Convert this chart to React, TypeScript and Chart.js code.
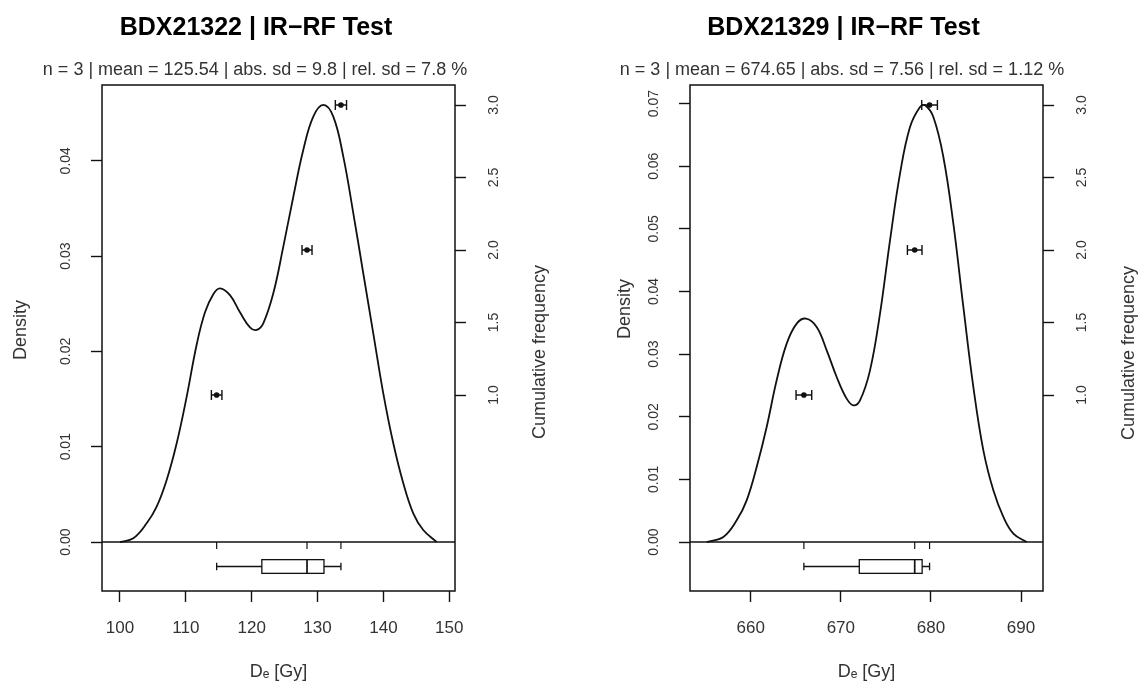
import React, { useEffect, useRef } from 'react';
import { Chart, registerables } from 'chart.js';

Chart.register(...registerables);
Chart.defaults.font.family = "'Liberation Sans', Arial, sans-serif";

// ---------- Panel 1: BDX21322 ----------
const p1Title = 'BDX21322 | IR\u2212RF Test';
const p1Subtitle = 'n = 3 | mean = 125.54 | abs. sd = 9.8 | rel. sd = 7.8 %';
const p1De = [114.68, 128.4, 133.55];
const p1DeErr = [0.8, 0.76, 0.85];
const p1KdeX = [100.0, 102.02, 104.05, 105.57, 107.09, 108.61, 110.13, 111.64, 112.91, 114.17, 115.18, 116.7, 118.22, 119.74, 120.75, 121.76, 123.28, 124.8, 126.32, 127.83, 129.35, 130.87, 132.39, 133.91, 135.43, 136.94, 138.46, 139.98, 141.5, 143.02, 144.53, 146.05, 148.08];
const p1KdeY = [0.0, 0.00039, 0.00196, 0.00371, 0.00651, 0.01036, 0.01525, 0.0207, 0.0241, 0.0260, 0.02662, 0.0259, 0.0241, 0.02252, 0.02225, 0.02295, 0.02609, 0.03099, 0.03623, 0.04113, 0.04463, 0.04586, 0.04463, 0.04043, 0.03449, 0.0282, 0.0219, 0.0156, 0.01036, 0.00616, 0.00301, 0.00126, 0.0];
const p1XTicks = [100, 110, 120, 130, 140, 150];
const p1DensityTicks = [0, 0.01, 0.02, 0.03, 0.04];

// ---------- Panel 2: BDX21329 ----------
const p2Title = 'BDX21329 | IR\u2212RF Test';
const p2Subtitle = 'n = 3 | mean = 674.65 | abs. sd = 7.56 | rel. sd = 1.12 %';
const p2De = [665.9, 678.2, 679.85];
const p2DeErr = [0.87, 0.81, 0.87];
const p2KdeX = [655.11, 656.96, 658.44, 659.55, 660.66, 661.77, 662.88, 663.99, 665.1, 666.14, 667.32, 668.43, 669.54, 670.65, 671.39, 672.13, 673.24, 674.35, 675.46, 676.57, 677.68, 678.79, 679.35, 680.27, 681.38, 682.49, 683.6, 684.71, 685.82, 686.93, 688.04, 689.15, 690.63];
const p2KdeY = [0.0, 0.0008, 0.00346, 0.00666, 0.01198, 0.01837, 0.02582, 0.03167, 0.03487, 0.03567, 0.03433, 0.03061, 0.02635, 0.02289, 0.02183, 0.02262, 0.02741, 0.03646, 0.04817, 0.05882, 0.06627, 0.06946, 0.06973, 0.06786, 0.06148, 0.05083, 0.03753, 0.02475, 0.01464, 0.00825, 0.004, 0.00134, 0.0];
const p2XTicks = [660, 670, 680, 690];
const p2DensityTicks = [0, 0.01, 0.02, 0.03, 0.04, 0.05, 0.06, 0.07];

const cumTicks = [1.0, 1.5, 2.0, 2.5, 3.0];

const xTitle = 'D\u2091 [Gy]';
const yTitle = 'Density';
const y1Title = 'Cumulative frequency';

type Panel = {
  title: string; subtitle: string;
  de: number[]; err: number[];
  kdeX: number[]; kdeY: number[];
  xTicks: number[]; densTicks: number[];
  xMin: number; xMax: number; dMin: number; dMax: number;
  cMin: number; cMax: number;
  width: number; leftW: number; rightW: number;
  titleX: number; subX: number;
  densLabel: [number, number]; cumLabel: [number, number];
};

const panels: Panel[] = [
  {
    title: p1Title, subtitle: p1Subtitle, de: p1De, err: p1DeErr, kdeX: p1KdeX, kdeY: p1KdeY,
    xTicks: p1XTicks, densTicks: p1DensityTicks,
    xMin: 97.27, xMax: 150.87, dMin: -0.00514, dMax: 0.04795, cMin: -0.3517, cMax: 3.138,
    width: 570, leftW: 102, rightW: 115, titleX: 256, subX: 255,
    densLabel: [21, 330], cumLabel: [540, 352],
  },
  {
    title: p2Title, subtitle: p2Subtitle, de: p2De, err: p2DeErr, kdeX: p2KdeX, kdeY: p2KdeY,
    xTicks: p2XTicks, densTicks: p2DensityTicks,
    xMin: 653.26, xMax: 692.44, dMin: -0.00782, dMax: 0.07297, cMin: -0.3517, cMax: 3.138,
    width: 569, leftW: 120, rightW: 96, titleX: 273.5, subX: 272,
    densLabel: [55, 309], cumLabel: [559, 353],
  },
];

function fivenum(v: number[]) {
  const s = [...v].sort((a, b) => a - b);
  const n = s.length;
  const n4 = Math.floor((n + 3) / 2) / 2;
  const idx = [1, n4, (n + 1) / 2, n + 1 - n4, n];
  return idx.map((d) => 0.5 * (s[Math.floor(d) - 1] + s[Math.ceil(d) - 1]));
}

const INK = '#111';
const TXT = '#333';

function makePlugin(p: Panel) {
  return {
    id: 'panelDecor',
    afterDatasetsDraw(chart: any) {
      const { ctx, chartArea: a, scales } = chart;
      const xs = scales.x, ys = scales.y, y1 = scales.y1;
      ctx.save();
      ctx.strokeStyle = INK;
      ctx.fillStyle = INK;
      ctx.lineWidth = 1.5;
      // box
      ctx.strokeRect(a.left, a.top, a.right - a.left, a.bottom - a.top);
      // zero line separating density & boxplot
      const zy = ys.getPixelForValue(0);
      ctx.beginPath();
      ctx.moveTo(a.left, zy);
      ctx.lineTo(a.right, zy);
      ctx.stroke();
      // rug
      ctx.lineWidth = 1.2;
      p.de.forEach((v) => {
        const px = xs.getPixelForValue(v);
        ctx.beginPath();
        ctx.moveTo(px, zy);
        ctx.lineTo(px, zy + 7);
        ctx.stroke();
      });
      // boxplot
      const [mn, q1, med, q3, mx] = fivenum(p.de);
      const cy = (zy + a.bottom) / 2;
      const hh = (a.bottom - zy) * 0.14;
      const ch = hh * 0.55;
      const X = (v: number) => xs.getPixelForValue(v);
      ctx.lineWidth = 1.3;
      ctx.beginPath();
      ctx.moveTo(X(mn), cy); ctx.lineTo(X(q1), cy);
      ctx.moveTo(X(q3), cy); ctx.lineTo(X(mx), cy);
      ctx.moveTo(X(mn), cy - ch); ctx.lineTo(X(mn), cy + ch);
      ctx.moveTo(X(mx), cy - ch); ctx.lineTo(X(mx), cy + ch);
      ctx.stroke();
      ctx.strokeRect(X(q1), cy - hh, X(q3) - X(q1), 2 * hh);
      ctx.lineWidth = 1.7;
      ctx.beginPath();
      ctx.moveTo(X(med), cy - hh); ctx.lineTo(X(med), cy + hh);
      ctx.stroke();
      // error bars
      ctx.lineWidth = 1.4;
      p.de.forEach((v, i) => {
        const py = y1.getPixelForValue(i + 1);
        const l = X(v - p.err[i]);
        const r = X(v + p.err[i]);
        ctx.beginPath();
        ctx.moveTo(l, py); ctx.lineTo(r, py);
        ctx.moveTo(l, py - 5); ctx.lineTo(l, py + 5);
        ctx.moveTo(r, py - 5); ctx.lineTo(r, py + 5);
        ctx.stroke();
      });
      // titles
      ctx.textAlign = 'center';
      ctx.textBaseline = 'alphabetic';
      ctx.fillStyle = '#000';
      ctx.font = "bold 25px 'Liberation Sans', Arial, sans-serif";
      ctx.fillText(p.title, p.titleX, 35);
      ctx.fillStyle = TXT;
      ctx.font = "18px 'Liberation Sans', Arial, sans-serif";
      ctx.fillText(p.subtitle, p.subX, 75);
      // rotated axis titles
      ctx.font = "18px 'Liberation Sans', Arial, sans-serif";
      ctx.textBaseline = 'middle';
      const rot = (t: string, x: number, y: number) => {
        ctx.save();
        ctx.translate(x, y);
        ctx.rotate(-Math.PI / 2);
        ctx.fillText(t, 0, 0);
        ctx.restore();
      };
      rot(yTitle, p.densLabel[0], p.densLabel[1]);
      rot(y1Title, p.cumLabel[0], p.cumLabel[1]);
      ctx.restore();
    },
  };
}

function makeConfig(p: Panel): any {
  const gridOpts = { drawOnChartArea: false, drawTicks: true, tickLength: 11, tickColor: INK, tickWidth: 1.4 };
  return {
    type: 'scatter',
    data: {
      datasets: [
        {
          label: 'KDE',
          data: p.kdeX.map((x, i) => ({ x, y: p.kdeY[i] })),
          showLine: true,
          borderColor: INK,
          borderWidth: 1.8,
          pointRadius: 0,
          tension: 0.4,
          yAxisID: 'y',
        },
        {
          label: 'De',
          data: p.de.map((x, i) => ({ x, y: i + 1 })),
          showLine: false,
          pointRadius: 2.8,
          pointBackgroundColor: INK,
          pointBorderWidth: 0,
          yAxisID: 'y1',
        },
      ],
    },
    options: {
      animation: false,
      responsive: false,
      maintainAspectRatio: false,
      devicePixelRatio: 1,
      layout: { padding: { top: 85, left: 0, right: 0, bottom: 0 } },
      plugins: { legend: { display: false }, tooltip: { enabled: false }, title: { display: false } },
      scales: {
        x: {
          type: 'linear', position: 'bottom', min: p.xMin, max: p.xMax,
          afterBuildTicks: (s: any) => { s.ticks = p.xTicks.map((v) => ({ value: v })); },
          afterFit: (s: any) => { s.height = 95; },
          grid: gridOpts,
          border: { display: false },
          ticks: { autoSkip: false, maxRotation: 0, padding: 16, color: TXT, font: { size: 17 } },
          title: { display: true, text: xTitle, color: TXT, font: { size: 18 }, padding: { top: 0, bottom: 3 } },
        },
        y: {
          type: 'linear', position: 'left', min: p.dMin, max: p.dMax,
          afterBuildTicks: (s: any) => { s.ticks = p.densTicks.map((v) => ({ value: v })); },
          afterFit: (s: any) => { s.width = p.leftW; },
          grid: gridOpts,
          border: { display: false },
          ticks: {
            autoSkip: false, minRotation: 90, maxRotation: 90, crossAlign: 'center', padding: 11,
            color: TXT, font: { size: 14 },
            callback: (v: any) => Number(v).toFixed(2),
          },
        },
        y1: {
          type: 'linear', position: 'right', min: p.cMin, max: p.cMax,
          afterBuildTicks: (s: any) => { s.ticks = cumTicks.map((v) => ({ value: v })); },
          afterFit: (s: any) => { s.width = p.rightW; },
          grid: gridOpts,
          border: { display: false },
          ticks: {
            autoSkip: false, minRotation: 90, maxRotation: 90, crossAlign: 'center', padding: 18,
            color: TXT, font: { size: 14 },
            callback: (v: any) => Number(v).toFixed(1),
          },
        },
      },
    },
    plugins: [makePlugin(p)],
  };
}

function PanelChart({ p, left }: { p: Panel; left: number }) {
  const ref = useRef<HTMLCanvasElement | null>(null);
  useEffect(() => {
    if (!ref.current) return;
    const chart = new Chart(ref.current, makeConfig(p));
    return () => chart.destroy();
  }, [p]);
  return (
    <canvas
      ref={ref}
      width={p.width}
      height={686}
      style={{ position: 'absolute', left, top: 0, width: p.width, height: 686 }}
    />
  );
}

export default function App() {
  return (
    <div style={{ position: 'fixed', left: 0, top: 0, width: 1139, height: 686, background: '#fff', overflow: 'hidden' }}>
      <PanelChart p={panels[0]} left={0} />
      <PanelChart p={panels[1]} left={570} />
    </div>
  );
}
